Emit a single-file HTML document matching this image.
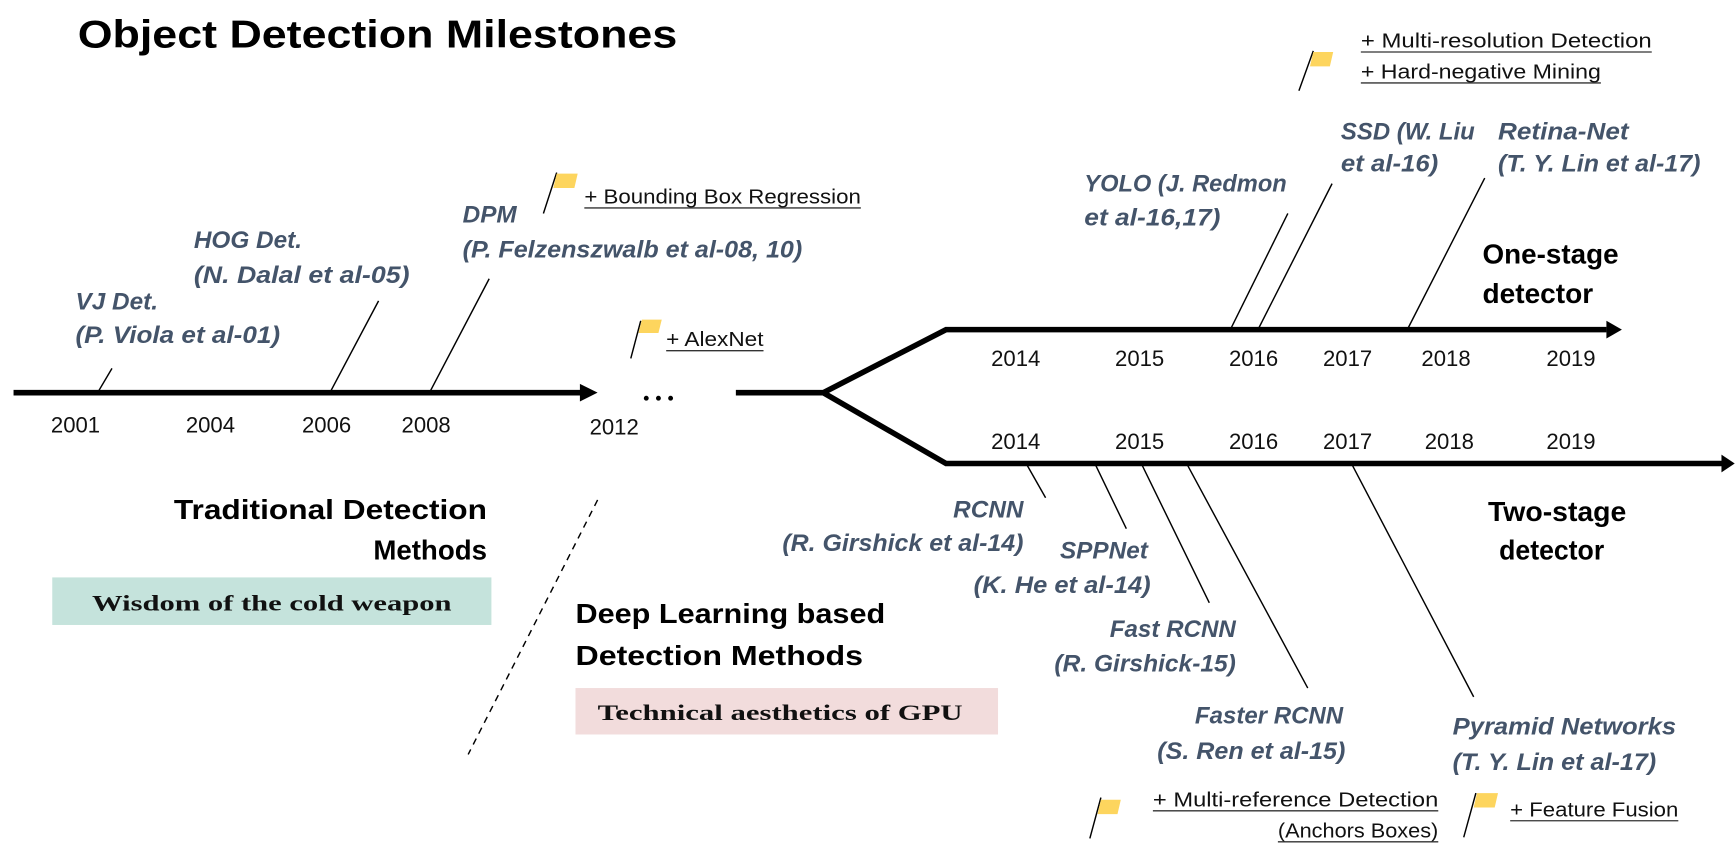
<!DOCTYPE html>
<html><head><meta charset="utf-8"><style>
html,body{margin:0;padding:0;background:#fff;}
svg{display:block;}
.lab{font-family:"Liberation Sans",sans-serif;font-style:italic;font-weight:bold;font-size:22px;fill:#44546a;}
.yr{font-family:"Liberation Sans",sans-serif;font-size:20px;fill:#111;}
.tag{font-family:"Liberation Sans",sans-serif;font-size:18px;fill:#111;}
.hd{font-family:"Liberation Sans",sans-serif;font-weight:bold;font-size:25px;fill:#000;}
.sf{font-family:"Liberation Serif",serif;font-weight:bold;font-size:20px;fill:#111;}
</style></head><body>
<svg width="1735" height="844" viewBox="0 0 1568 763" xmlns="http://www.w3.org/2000/svg">
<rect width="1568" height="763" fill="#fff"/>
<text x="70" y="43" font-family="Liberation Sans,sans-serif" font-weight="bold" font-size="35" fill="#000" textLength="542" lengthAdjust="spacingAndGlyphs">Object Detection Milestones</text>

<g stroke="#000" stroke-width="5" fill="none">
<line x1="12" y1="355" x2="528" y2="355"/>
<polyline points="665,355 744,355 855,298 1452,298"/>
<polyline points="744,355 855,419 1560,419"/>
</g>
<polygon points="524,347 540,355 524,363" fill="#000"/>
<polygon points="1452,290 1466,298 1452,306" fill="#000"/>
<polygon points="1556,411 1568,419 1556,427" fill="#000"/>
<g fill="#000"><circle cx="584" cy="360" r="2.2"/><circle cx="595" cy="360" r="2.2"/><circle cx="606" cy="360" r="2.2"/></g>

<g class="yr" text-anchor="middle">
<text x="68" y="391">2001</text><text x="190" y="391">2004</text><text x="295" y="391">2006</text><text x="385" y="391">2008</text><text x="555" y="393">2012</text>
<text x="918" y="331">2014</text><text x="1030" y="331">2015</text><text x="1133" y="331">2016</text><text x="1218" y="331">2017</text><text x="1307" y="331">2018</text><text x="1420" y="331">2019</text>
<text x="918" y="406">2014</text><text x="1030" y="406">2015</text><text x="1133" y="406">2016</text><text x="1218" y="406">2017</text><text x="1310" y="406">2018</text><text x="1420" y="406">2019</text>
</g>

<g stroke="#000" stroke-width="1.3">
<line x1="88" y1="355" x2="101" y2="333"/>
<line x1="298" y1="355" x2="342" y2="272"/>
<line x1="388" y1="355" x2="442" y2="252"/>
<line x1="1112" y1="298" x2="1164" y2="193"/>
<line x1="1137" y1="298" x2="1204" y2="166"/>
<line x1="1272" y1="298" x2="1342" y2="161"/>
<line x1="928" y1="420" x2="945" y2="450"/>
<line x1="990" y1="420" x2="1018" y2="478"/>
<line x1="1032" y1="420" x2="1093" y2="545"/>
<line x1="1073" y1="420" x2="1182" y2="622"/>
<line x1="1222" y1="420" x2="1332" y2="630"/>
</g>

<text class="lab" x="68" y="280">VJ Det.</text>
<text class="lab" x="68" y="310" textLength="185" lengthAdjust="spacingAndGlyphs">(P. Viola et al-01)</text>
<text class="lab" x="175" y="224">HOG Det.</text>
<text class="lab" x="175" y="256" textLength="195" lengthAdjust="spacingAndGlyphs">(N. Dalal et al-05)</text>
<text class="lab" x="418" y="201">DPM</text>
<text class="lab" x="418" y="233" textLength="307" lengthAdjust="spacingAndGlyphs">(P. Felzenszwalb et al-08, 10)</text>
<text class="lab" x="980" y="173" textLength="183" lengthAdjust="spacingAndGlyphs">YOLO (J. Redmon</text>
<text class="lab" x="980" y="204" textLength="123" lengthAdjust="spacingAndGlyphs">et al-16,17)</text>
<text class="lab" x="1212" y="126" textLength="121" lengthAdjust="spacingAndGlyphs">SSD (W. Liu</text>
<text class="lab" x="1212" y="155" textLength="88" lengthAdjust="spacingAndGlyphs">et al-16)</text>
<text class="lab" x="1354" y="126" textLength="118" lengthAdjust="spacingAndGlyphs">Retina-Net</text>
<text class="lab" x="1354" y="155" textLength="183" lengthAdjust="spacingAndGlyphs">(T. Y. Lin et al-17)</text>
<text class="lab" x="925" y="468" text-anchor="end">RCNN</text>
<text class="lab" x="707" y="498" textLength="218" lengthAdjust="spacingAndGlyphs">(R. Girshick et al-14)</text>
<text class="lab" x="958" y="505">SPPNet</text>
<text class="lab" x="880" y="536" textLength="160" lengthAdjust="spacingAndGlyphs">(K. He et al-14)</text>
<text class="lab" x="1003" y="576" textLength="114" lengthAdjust="spacingAndGlyphs">Fast RCNN</text>
<text class="lab" x="953" y="607" textLength="164" lengthAdjust="spacingAndGlyphs">(R. Girshick-15)</text>
<text class="lab" x="1080" y="654" textLength="134" lengthAdjust="spacingAndGlyphs">Faster RCNN</text>
<text class="lab" x="1046" y="686" textLength="170" lengthAdjust="spacingAndGlyphs">(S. Ren et al-15)</text>
<text class="lab" x="1313" y="664" textLength="202" lengthAdjust="spacingAndGlyphs">Pyramid Networks</text>
<text class="lab" x="1313" y="696" textLength="184" lengthAdjust="spacingAndGlyphs">(T. Y. Lin et al-17)</text>

<text class="hd" x="1340" y="238" textLength="123" lengthAdjust="spacingAndGlyphs">One-stage</text>
<text class="hd" x="1340" y="274" textLength="100" lengthAdjust="spacingAndGlyphs">detector</text>
<text class="hd" x="1345" y="471" textLength="125" lengthAdjust="spacingAndGlyphs">Two-stage</text>
<text class="hd" x="1355" y="506" textLength="95" lengthAdjust="spacingAndGlyphs">detector</text>
<text class="hd" x="157" y="469" textLength="283" lengthAdjust="spacingAndGlyphs">Traditional Detection</text>
<text class="hd" x="440" y="506" text-anchor="end">Methods</text>
<text class="hd" x="520" y="563" textLength="280" lengthAdjust="spacingAndGlyphs">Deep Learning based</text>
<text class="hd" x="520" y="601" textLength="260" lengthAdjust="spacingAndGlyphs">Detection Methods</text>

<rect x="47" y="522" width="397" height="43" fill="#c5e3dc"/>
<text class="sf" x="83" y="552" textLength="325" lengthAdjust="spacingAndGlyphs">Wisdom of the cold weapon</text>
<rect x="520" y="622" width="382" height="42" fill="#f2dcdc"/>
<text class="sf" x="540" y="651" textLength="330" lengthAdjust="spacingAndGlyphs">Technical aesthetics of GPU</text>
<line x1="540" y1="452" x2="423" y2="682" stroke="#000" stroke-width="1.3" stroke-dasharray="6,5"/>

<g stroke="#000" stroke-width="1.3">
<line x1="491" y1="193" x2="503" y2="156"/>
<line x1="570" y1="324" x2="579" y2="290"/>
<line x1="1174" y1="82" x2="1187" y2="46"/>
<line x1="985" y1="758" x2="995" y2="721"/>
<line x1="1323" y1="757" x2="1334" y2="717"/>
</g>
<g fill="#fdd55e">
<polygon points="503,157 522,157 519,170 500,170"/>
<polygon points="580,289 598,289 595,301 577,301"/>
<polygon points="1187,47 1205,47 1202,60 1184,60"/>
<polygon points="995,723 1013,723 1010,736 992,736"/>
<polygon points="1335,717 1354,717 1351,730 1332,730"/>
</g>

<g class="tag">
<text x="528" y="184" textLength="250" lengthAdjust="spacingAndGlyphs">+ Bounding Box Regression</text>
<text x="602" y="313" textLength="88" lengthAdjust="spacingAndGlyphs">+ AlexNet</text>
<text x="1230" y="43" textLength="263" lengthAdjust="spacingAndGlyphs">+ Multi-resolution Detection</text>
<text x="1230" y="71" textLength="217" lengthAdjust="spacingAndGlyphs">+ Hard-negative Mining</text>
<text x="1042" y="729" textLength="258" lengthAdjust="spacingAndGlyphs">+ Multi-reference Detection</text>
<text x="1155" y="757" textLength="145" lengthAdjust="spacingAndGlyphs">(Anchors Boxes)</text>
<text x="1365" y="738" textLength="152" lengthAdjust="spacingAndGlyphs">+ Feature Fusion</text>
</g>
<g stroke="#333" stroke-width="1.2">
<line x1="528" y1="188" x2="778" y2="188"/>
<line x1="602" y1="317" x2="690" y2="317"/>
<line x1="1230" y1="47" x2="1493" y2="47"/>
<line x1="1230" y1="75" x2="1447" y2="75"/>
<line x1="1042" y1="733" x2="1300" y2="733"/>
<line x1="1155" y1="761" x2="1300" y2="761"/>
<line x1="1365" y1="742" x2="1517" y2="742"/>
</g>
</svg>
</body></html>
